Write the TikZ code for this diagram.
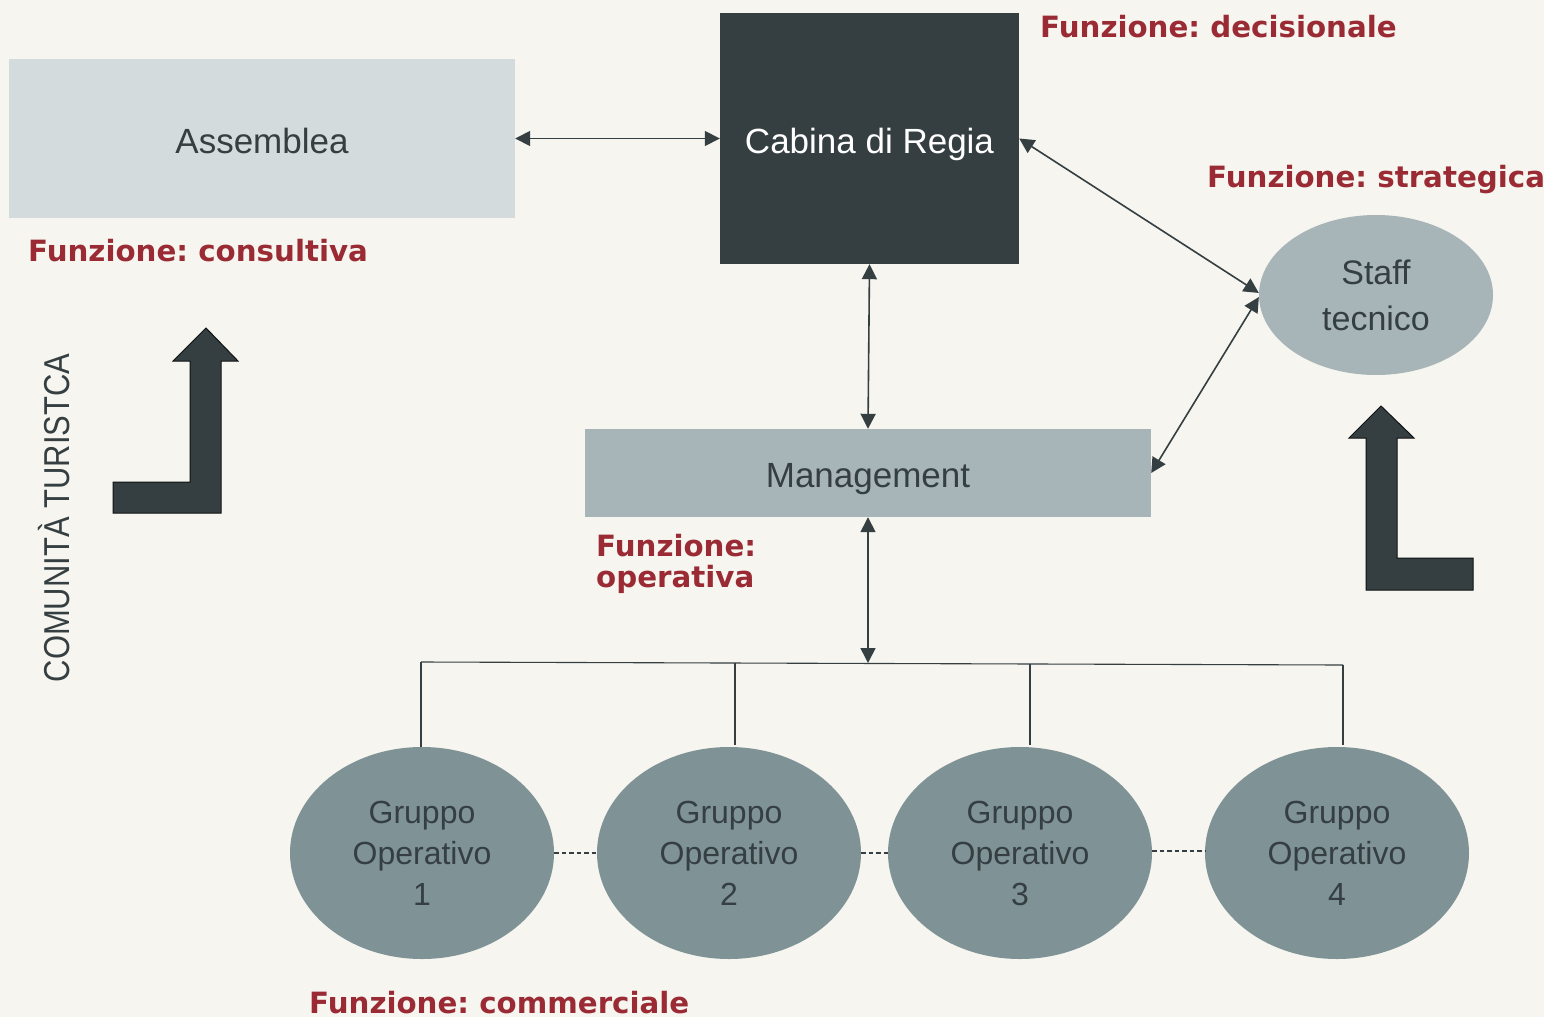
\documentclass[tikz,border=0pt]{standalone}
\usepackage{fontspec}
\setmainfont{Liberation Sans}
\newfontfamily\redfont{DejaVu Sans}
\usetikzlibrary{shapes.geometric,arrows.meta}
\frenchspacing
\definecolor{bgc}{HTML}{F6F5EF}
\definecolor{darkc}{HTML}{353F42}
\definecolor{assc}{HTML}{D3DBDD}
\definecolor{midc}{HTML}{A8B5B8}
\definecolor{grpc}{HTML}{7F9397}
\definecolor{redc}{HTML}{9A2B34}
\tikzset{
  boxnode/.style={rectangle, inner sep=0pt, text=darkc, text height=29pt, text depth=0pt, font=\fontsize{35}{40}\selectfont},
  grpnode/.style={ellipse, fill=grpc, inner sep=0pt, minimum width=264pt, minimum height=212pt, align=center, text=darkc, font=\fontsize{32}{41}\selectfont},
  redlabel/.style={inner sep=0pt, text=redc, font=\redfont\bfseries\fontsize{29.3}{31}\selectfont},
  dbl/.style={draw=darkc, line width=1.6pt, {Triangle[length=15pt,width=15pt]}-{Triangle[length=15pt,width=15pt]}},
  thinline/.style={draw=darkc, line width=1.1pt},
  dashline/.style={draw=darkc, line width=1.3pt, dash pattern=on 4.5pt off 3pt},
  bigarrow/.style={fill=darkc, draw=black!70!darkc, line width=1pt, line join=miter},
}
\begin{document}
\begin{tikzpicture}[x=1pt,y=-1pt]
\useasboundingbox (0,0) rectangle (1544,1017);
\fill[bgc] (0,0) rectangle (1544,1017);

% nodes
\node[boxnode, fill=assc, minimum width=506pt, minimum height=159pt] (ass) at (262,138.5) {Assemblea};
\node[boxnode, fill=darkc, text=white, minimum width=299pt, minimum height=251pt] (cab) at (869.5,138.5) {Cabina di Regia};
\node[boxnode, fill=midc, minimum width=566pt, minimum height=88pt] (man) at (868,473) {Management};
\node[ellipse, fill=midc, inner sep=0pt, minimum width=234pt, minimum height=160pt, align=center, text=darkc, font=\fontsize{34}{46}\selectfont] (staff) at (1376,295) {Staff\\tecnico};

\node[grpnode] (g1) at (422,853) {Gruppo\\Operativo\\1};
\node[grpnode] (g2) at (729,853) {Gruppo\\Operativo\\2};
\node[grpnode] (g3) at (1020,853) {Gruppo\\Operativo\\3};
\node[grpnode] (g4) at (1337,853) {Gruppo\\Operativo\\4};

% red labels
\node[redlabel, anchor=base west] (ld) at (1040,37) {Funzione: decisionale};
\node[redlabel, anchor=base west] (ls) at (1207,187) {Funzione: strategica};
\node[redlabel, anchor=base west] (lc) at (28,261) {Funzione: consultiva};
\node[redlabel, anchor=north west, align=left] (lo) at (596,534) {Funzione:\\operativa};
\node[redlabel, anchor=base west] (lm) at (309,1013) {Funzione: commerciale};

% vertical text
\node[rotate=90, anchor=base, inner sep=0pt, text=darkc, font=\fontsize{36}{40}\selectfont] (comm) at (69,518) {\scalebox{0.86}[1]{COMUNITÀ TURISTCA}};

% connectors
\draw[dbl] (ass.east) -- (cab.west);
\draw[dbl] (cab.south) -- (man.north);
\draw[dbl] (cab.east) -- (staff.179);
\draw[dbl] (staff.181) -- (man.east);

\coordinate (b1) at (421,662);
\coordinate (bm) at (868,663);
\coordinate (b2) at (735,663);
\coordinate (b3) at (1030,664);
\coordinate (b4) at (1343,665);
\draw[dbl] (man.south) -- (bm);
\draw[thinline] (b1) -- (b4);
\draw[thinline] (b1) -- (b1 |- g1.north);
\draw[thinline] (b2) -- ([yshift=2pt]b2 |- g2.north);
\draw[thinline] (b3) -- ([yshift=2pt]b3 |- g3.north);
\draw[thinline] (b4) -- ([yshift=2pt]b4 |- g4.north);

\draw[dashline] (g1.east) -- (g2.west);
\draw[dashline] (g2.east) -- (g3.west);
\draw[dashline] ([yshift=2pt]g3.east) -- ([yshift=2pt]g4.west);

% big L arrows
\draw[bigarrow] (206,328) -- (238,361) -- (221,361) -- (221,513) -- (113,513) -- (113,482) -- (190,482) -- (190,361) -- (173,361) -- cycle;
\draw[bigarrow] (1381,406) -- (1414,438) -- (1397,438) -- (1397,558) -- (1473,558) -- (1473,590) -- (1366,590) -- (1366,438) -- (1349,438) -- cycle;
\end{tikzpicture}
\end{document}
